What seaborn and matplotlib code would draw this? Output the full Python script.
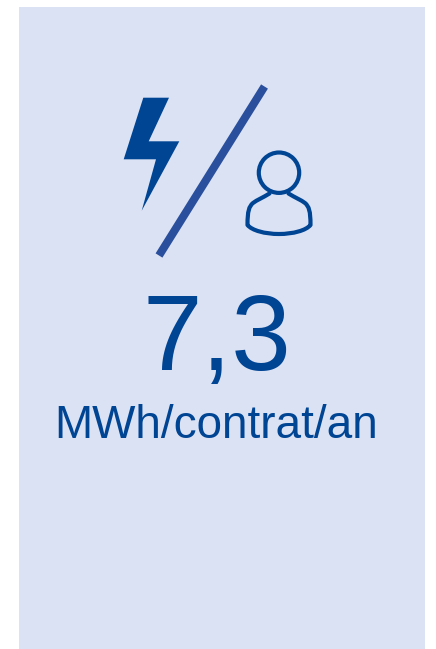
import matplotlib
matplotlib.use("Agg")
import matplotlib.pyplot as plt
import seaborn as sns
from matplotlib.patches import Circle, PathPatch, Polygon, Rectangle
from matplotlib.path import Path

VALUE_LABEL = "7,3"
UNIT_LABEL = "MWh/contrat/an"

BLUE = "#004494"
SLASH_BLUE = "#2a4f9c"
PANEL = "#dbe2f4"

# shapes in picture pixels
BOLT_X = [143.3, 169, 148.7, 179.3, 141.7, 156, 123.7]
BOLT_Y = [97.7, 97.7, 141.3, 141.3, 210.7, 159.3, 159.3]
SLASH_X = [264.5, 159]
SLASH_Y = [86.5, 255.5]

sns.set_theme(style="white")
plt.rcParams["font.family"] = ["Liberation Sans", "DejaVu Sans"]

fig = plt.figure(figsize=(4.36, 6.49), dpi=100, facecolor="white")
ax = fig.add_axes([0, 0, 1, 1])
ax.set_xlim(0, 436)
ax.set_ylim(649, 0)
ax.axis("off")

ax.add_patch(Rectangle((19, 7), 406, 642, facecolor=PANEL, edgecolor="none", zorder=0))

ax.add_patch(Polygon(list(zip(BOLT_X, BOLT_Y)), closed=True, facecolor=BLUE, edgecolor="none", zorder=2))

sns.lineplot(x=SLASH_X, y=SLASH_Y, sort=False, estimator=None, color=SLASH_BLUE,
             linewidth=5.8, ax=ax, legend=False, zorder=2, solid_capstyle="butt")

# person icon: head and shoulders
ax.add_patch(Circle((279, 172.7), 20.2, facecolor="none", edgecolor=BLUE, linewidth=3, zorder=3))
body = [
    (269.5, 193.5),
    (263, 197.5), (257, 200), (253, 203),
    (249, 206.5), (247.5, 211), (247.5, 225),
    (252, 230.5), (265, 234), (279, 234),
    (293, 234), (306, 230.5), (310.5, 225),
    (310.5, 211), (309, 206.5), (305, 203),
    (301, 200), (295, 197.5), (288.5, 193.5),
]
codes = [Path.MOVETO] + [Path.CURVE4] * (len(body) - 1)
ax.add_patch(PathPatch(Path(body, codes), facecolor="none", edgecolor=BLUE, linewidth=3,
                       capstyle="round", joinstyle="round", zorder=3))

ax.text(216.5, 370, VALUE_LABEL, color=BLUE, fontsize=77, ha="center", va="baseline")
ax.text(216.5, 437.5, UNIT_LABEL, color=BLUE, fontsize=33, ha="center", va="baseline")

fig.savefig("out.png", dpi=100, facecolor="white")
